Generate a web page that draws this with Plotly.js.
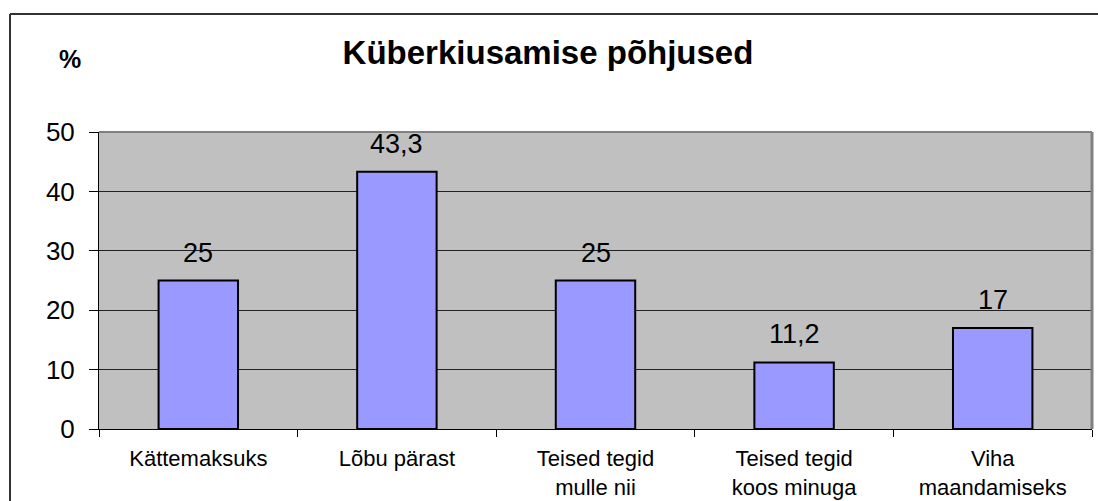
<!DOCTYPE html>
<html>
<head>
<meta charset="utf-8">
<script src="https://cdn.plot.ly/plotly-3.0.1.min.js"></script>
<style>
html,body{margin:0;padding:0;background:#fff;}
#chart{width:1098px;height:501px;}
</style>
</head>
<body>
<div id="chart"></div>
<script>
const categories = ["Kättemaksuks", "Lõbu pärast", "Teised tegid<br>mulle nii", "Teised tegid<br>koos minuga", "Viha<br>maandamiseks"];
const values = [25, 43.3, 25, 11.2, 17];
const yTicks = [0, 10, 20, 30, 40, 50];
const titleText = "Küberkiusamise põhjused";
const yUnit = "%";

const FONT = "Liberation Sans, Arial, sans-serif";
const W = 1098, H = 501;
const M = {l: 99, r: 6, t: 132, b: 72};
const pw = W - M.l - M.r, ph = H - M.t - M.b;
const px = x => (x - M.l) / pw;
const py = y => (H - M.b - y) / ph;

const labels = values.map(v => String(v).replace('.', ','));

const trace = {
  type: 'bar',
  x: categories,
  y: values,
  marker: {color: '#9999FF', line: {color: '#000000', width: 2}},
  width: 0.4,
  hoverinfo: 'none'
};

const annotations = categories.map((c, i) => ({
  x: c, y: values[i], xref: 'x', yref: 'y',
  text: labels[i], showarrow: false,
  yanchor: 'bottom', yshift: 11,
  font: {family: FONT, size: 27, color: '#000'}
}));
annotations.push({
  xref: 'paper', yref: 'paper', x: px(70), y: py(59),
  xanchor: 'center', yanchor: 'middle', showarrow: false,
  text: '<b>' + yUnit + '</b>', font: {family: FONT, size: 25, color: '#000'}
});

const layout = {
  width: W, height: H,
  margin: M,
  paper_bgcolor: '#ffffff',
  plot_bgcolor: '#C0C0C0',
  showlegend: false,
  title: {
    text: '<b>' + titleText + '</b>',
    font: {family: FONT, size: 33, color: '#000'},
    x: px(548), xanchor: 'center', xref: 'paper',
    y: 1 - 52 / H, yanchor: 'middle', yref: 'container'
  },
  xaxis: {
    type: 'category',
    range: [-0.5, categories.length - 0.5],
    tickson: 'boundaries',
    ticks: 'outside', ticklen: 7, tickcolor: '#000', tickwidth: 1,
    showline: true, linecolor: '#000', linewidth: 1,
    showgrid: false, zeroline: false,
    tickfont: {family: FONT, size: 22, color: '#000'},
    ticklabelstandoff: 10,
    fixedrange: true
  },
  yaxis: {
    range: [0, 50],
    tickvals: yTicks,
    ticktext: yTicks.map(String),
    ticks: 'outside', ticklen: 9, tickcolor: '#000', tickwidth: 1,
    showline: true, linecolor: '#000', linewidth: 1,
    showgrid: true, gridcolor: '#222', gridwidth: 1,
    zeroline: false,
    tickfont: {family: FONT, size: 26, color: '#000'},
    ticklabelstandoff: 9,
    fixedrange: true
  },
  shapes: [
    {type: 'line', xref: 'paper', yref: 'paper', x0: 0, x1: 1, y0: 1, y1: 1,
     line: {color: '#808080', width: 2}, layer: 'above'},
    {type: 'line', xref: 'paper', yref: 'paper', x0: 1, x1: 1, y0: 0, y1: 1,
     line: {color: '#808080', width: 3}, layer: 'above'},
    {type: 'line', xref: 'paper', yref: 'paper', x0: px(10), x1: px(1100), y0: py(14), y1: py(14),
     line: {color: '#333', width: 2}, layer: 'above'},
    {type: 'line', xref: 'paper', yref: 'paper', x0: px(10), x1: px(10), y0: py(14), y1: py(505),
     line: {color: '#333', width: 2}, layer: 'above'}
  ],
  annotations: annotations
};

Plotly.newPlot('chart', [trace], layout, {displayModeBar: false, staticPlot: true});
</script>
</body>
</html>
